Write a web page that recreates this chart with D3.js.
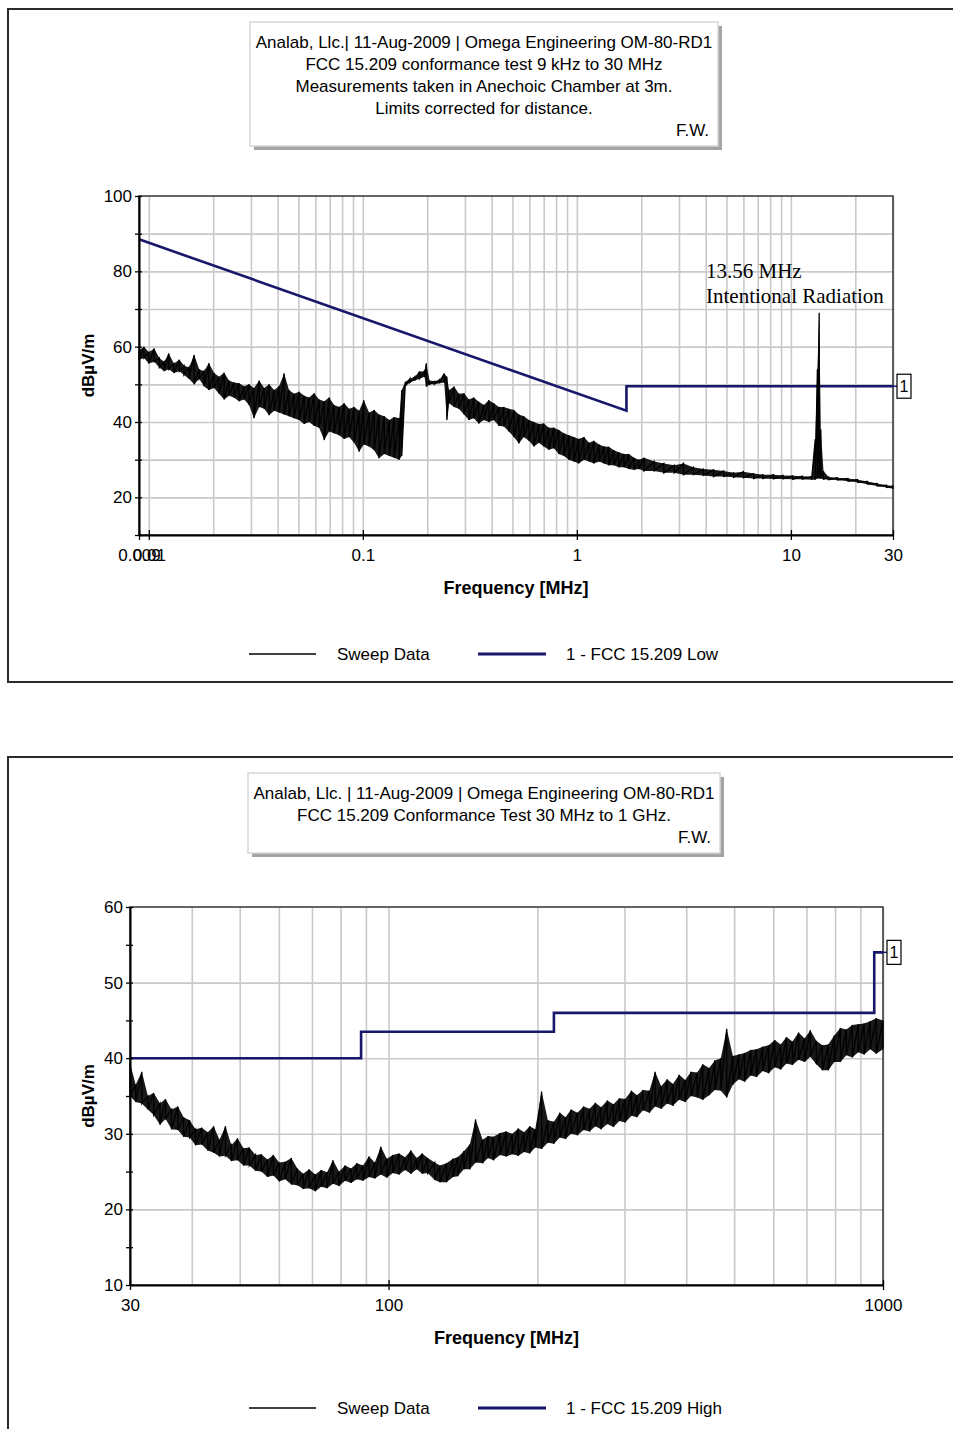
<!DOCTYPE html>
<html>
<head>
<meta charset="utf-8">
<script src="https://cdn.jsdelivr.net/npm/d3@7"></script>
<style>
body { margin: 0; background: #fff; }
text { fill: #000; }
</style>
</head>
<body>
<svg id="chart" width="953" height="1429"></svg>
<script>
// ---- chart 1: 9 kHz - 30 MHz (min / max of the sweep read per display column) ----
var lowFreq = [0.009,0.0095,0.01,0.0106,0.0112,0.0118,0.0124,0.0131,0.0139,0.0146,
  0.0154,0.0163,0.0172,0.0181,0.0191,0.0202,0.0213,0.0225,0.0237,0.025,
  0.0264,0.0279,0.0294,0.031,0.0328,0.0346,0.0365,0.0385,0.0406,0.0429,
  0.0452,0.0477,0.0504,0.0532,0.0561,0.0592,0.0625,0.066,0.0696,0.0734,
  0.0775,0.0818,0.0863,0.0911,0.0961,0.101,0.107,0.113,0.119,0.126,
  0.133,0.14,0.148,0.152,0.158,0.166,0.175,0.184,0.194,0.198,
  0.205,0.216,0.228,0.24,0.247,0.253,0.267,0.281,0.297,0.313,
  0.33,0.348,0.368,0.388,0.409,0.432,0.456,0.481,0.508,0.536,
  0.565,0.597,0.63,0.665,0.701,0.74,0.781,0.824,0.87,0.918,
  0.969,1.02,1.08,1.14,1.2,1.27,1.34,1.41,1.49,1.57,
  1.66,1.75,1.85,1.95,2.06,2.3,2.55,2.85,3.15,3.5,
  3.9,4.35,4.85,5.4,6.0,6.7,7.4,8.3,9.2,10.2,
  11.3,12.5,13.0,13.3,13.56,13.8,14.2,15.0,16.5,18.5,
  20.5,22.8,25.3,28,30];
var lowMin = [56.5,57,55.5,56,54.5,53.5,54,53,53.5,52.5,
  51.5,50,51.5,49.5,48.5,49,47.5,46,47,46.5,
  45.5,46,44.5,41,44,43.5,41.8,43,42.5,42,
  41.5,41,40.5,39.5,40,39,38.5,35.2,37.5,37,
  36.5,35.5,36,34.5,32.1,34,33.5,32.5,30.4,31.5,
  31,30.5,30,31,49.5,50.5,51,51.5,52,49.4,
  50,50,50.3,50.5,40.5,45,44,43.5,42,40.5,
  41,39.6,40.5,40,40.5,39,38.8,37.5,36,34.3,
  36,35,33.5,34.5,33.5,32.6,33,31.5,31,30,
  29.5,29,30,29.5,29,29.5,29,28.5,28.5,28,
  28,27.5,27.3,27.5,27,27,26.5,26.5,26,26,
  25.8,25.5,25.5,25.3,25.2,25,25,24.9,24.9,24.8,
  24.8,24.7,24.7,25,25,25,24.8,24.7,24.6,24.3,
  24,23.5,23,22.6,22.3];
var lowMax = [59,60,58.5,59.5,57,56,58.2,55.5,56.5,55,
  54.5,57.8,54,53.5,55.6,53,52,53.1,51,50.5,
  50.3,49.5,50,49,51,49,50,48.5,49.5,52.9,
  48.5,47.5,48,47,46.5,47.6,46,45.5,46.5,44.5,
  44,45,43.5,44,43,45.8,42.5,43.2,42,41.5,
  40.5,41.3,41,48.5,50.7,51.5,52,53.4,53.5,55.6,
  51,50.8,51.2,52.9,52,48.5,49.4,47.5,47.6,46,
  46.5,45.4,44.5,45.8,45,44,44,43.5,43.2,42,
  41.5,40.5,40,39.5,39.6,38.5,38.5,37.9,37,36.5,
  36,35.5,36,34.5,35,34,33.5,33.4,32.5,32,
  31.5,31.5,30.5,30,30.5,29.5,29,28.5,29,28,
  27.5,27.3,27,26.5,26.8,26.3,26,26,25.8,25.7,
  25.6,25.5,35.5,54,69,38,27,25.4,25.2,25,
  24.7,24.2,23.7,23.2,23];
var lowLimitFreq = [0.009, 0.49, 1.705, 1.705, 30];
var lowLimitDb = [88.5, 53.8, 43.0, 49.5, 49.5];
var lowTickValues = [0.009, 0.01, 0.1, 1, 10, 30];
var lowTickLabels = ["0.009", "0.01", "0.1", "1", "10", "30"];
var lowTitle = ["Analab, Llc.| 11-Aug-2009 | Omega Engineering OM-80-RD1",
  "FCC 15.209 conformance test 9 kHz to 30 MHz",
  "Measurements taken  in Anechoic Chamber at 3m.",
  "Limits corrected for distance."];

// ---- chart 2: 30 MHz - 1 GHz ----
var highFreq = [30,30.8,31.7,32.6,33.5,34.5,35.4,36.4,37.5,38.5,
  39.6,40.7,41.9,43.1,44.3,45.5,46.8,48.1,49.5,50.9,
  52.3,53.8,55.3,56.9,58.5,60.1,61.8,63.6,65.4,67.2,
  69.1,71.1,73.1,75.1,77.2,79.4,81.7,84,86.3,88.8,
  91.3,93.8,96.5,99.2,102,105,108,111,114,117,
  120,124,127,131,135,138,142,146,150,155,
  159,163,168,173,178,183,188,193,198,204,
  210,216,222,228,234,241,248,255,262,269,
  277,285,293,301,310,318,327,337,346,356,
  366,376,387,398,409,421,432,445,457,470,
  483,497,511,525,540,555,571,587,604,621,
  638,656,675,694,713,733,754,775,797,820,
  843,867,891,916,942,969,1000];
var highMin = [35,34.2,34,33.2,32.5,31.2,32,30.6,30.5,29.6,
  29.5,28.5,28.6,27.8,27.5,27,27.1,26.4,26.5,25.8,
  25.8,25.1,25,24.3,24.5,23.7,24,23.3,23.2,22.7,
  22.8,22.4,23,22.8,23.4,23.1,23.8,23.5,24,23.8,
  24.3,24.1,24.6,24.2,24.8,24.6,25.2,24.7,25.3,24.7,
  24.8,23.9,23.6,23.6,24.3,24.4,25.3,25.3,26.2,26.1,
  26.8,26.5,27.2,27,27.3,27.1,27.6,27.4,28.2,28,
  28.8,28.7,29.5,29.3,30,29.8,30.5,30.3,31,30.6,
  31.3,30.9,31.7,31.5,32.4,32.2,33.1,32.8,33.6,33.3,
  34,33.7,34.5,34.2,35,34.8,34.5,35.1,35.8,35.7,
  34.8,36.5,37.2,36.9,37.7,37.5,38.3,38,38.8,38.5,
  39.3,39.1,39.8,39.5,40.2,39.2,38.4,38.4,39.5,39.5,
  40.4,40.1,40.8,40.5,41.2,40.6,41.2];
var highMax = [39.4,36.5,38.2,35,35.4,34,34.6,33.2,33.6,32.2,
  31.8,30.6,30.8,30.2,31,29.2,31,28.5,29.4,28.1,
  28.2,27.2,27.3,26.6,27.2,26.2,26.3,26.8,25.4,24.7,
  25.3,24.6,25.2,24.9,26.5,25,25.8,25.4,26.1,25.8,
  27,26.2,28.3,26.7,27.2,27.4,26.9,27.8,26.8,27.4,
  26.8,26.2,25.8,26.1,26.7,26.9,27.7,28.6,31.9,29.2,
  29.7,29.6,30.1,30.3,30,30.7,30.2,31,30.6,35.6,
  31.8,31.6,32.8,32.2,33.2,32.8,33.6,33.3,34.1,33.5,
  34.4,33.9,34.7,34.6,35.7,35.1,35.8,35.7,38.2,36.3,
  37.2,36.6,37.8,37.1,38.2,38.1,39.2,38.7,39.7,40,
  43.9,40.3,40.5,40.7,41.1,41.2,41.5,41.7,42.4,41.8,
  42.8,42.2,43.4,42.6,43.7,42.3,41.7,41.8,43,44,
  43.8,44.4,44.5,44.6,44.9,45.3,45];
var highLimitFreq = [30, 88, 88, 216, 216, 960, 960, 1000];
var highLimitDb = [40, 40, 43.5, 43.5, 46, 46, 54, 54];
var highTickValues = [30, 100, 1000];
var highTickLabels = ["30", "100", "1000"];
var highTitle = ["Analab, Llc. | 11-Aug-2009 | Omega Engineering OM-80-RD1",
  "FCC 15.209 Conformance Test 30 MHz to 1 GHz."];

var NAVY = "#17176c";
var SANS = "Liberation Sans, Arial, sans-serif";
var SERIF = "Liberation Serif, Times New Roman, serif";
var svg = d3.select("#chart").style("font-family", SANS);

function drawChart(c) {
    var g = svg.append("g");

    // outer frame (right / bottom edges run off the page like the original)
    g.append("rect").attr("x", 8).attr("y", c.frameTop).attr("width", 980).attr("height", c.frameH)
        .attr("fill", "none").attr("stroke", "#2a2a2a").attr("stroke-width", 2);

    // title box with grey drop shadow
    var b = c.box;
    g.append("rect").attr("x", b.x + 4).attr("y", b.y + 4).attr("width", b.w).attr("height", b.h).attr("fill", "#a4a4a4");
    g.append("rect").attr("x", b.x).attr("y", b.y).attr("width", b.w).attr("height", b.h)
        .attr("fill", "#fff").attr("stroke", "#d6d6d6").attr("stroke-width", 1.5);
    c.title.forEach(function (t, i) {
        g.append("text").attr("x", b.x + b.w / 2).attr("y", b.y + 20 + i * 22).attr("dy", "0.35em")
            .attr("text-anchor", "middle").attr("font-size", 17).text(t);
    });
    g.append("text").attr("x", b.x + b.w - 9).attr("y", b.y + 20 + c.title.length * 22).attr("dy", "0.35em")
        .attr("text-anchor", "end").attr("font-size", 17).text("F.W.");

    var x = d3.scaleLog().domain(c.xDomain).range([c.left, c.right]);
    var y = d3.scaleLinear().domain(c.yDomain).range([c.bottom, c.top]);
    var w = c.right - c.left, h = c.bottom - c.top;

    // grid
    var gx = g.append("g").attr("transform", "translate(0," + c.bottom + ")")
        .call(d3.axisBottom(x).tickValues(x.ticks()).tickSize(-h).tickFormat(""));
    gx.select(".domain").remove();
    gx.selectAll("line").attr("stroke", "#c9c9c9").attr("stroke-width", 1.6);
    var gy = g.append("g").attr("transform", "translate(" + c.left + ",0)")
        .call(d3.axisLeft(y).tickValues(c.yGrid).tickSize(-w).tickFormat(""));
    gy.select(".domain").remove();
    gy.selectAll("line").attr("stroke", "#c9c9c9").attr("stroke-width", 1.6);

    // plot border
    g.append("rect").attr("x", c.left).attr("y", c.top).attr("width", w).attr("height", h)
        .attr("fill", "none").attr("stroke", "#333").attr("stroke-width", 1.5);

    // limit line
    var limitPts = c.limitFreq.map(function (f, i) { return [f, c.limitDb[i]]; });
    var line = d3.line().x(function (d) { return x(d[0]); }).y(function (d) { return y(d[1]); });
    g.append("path").attr("d", line(limitPts)).attr("fill", "none")
        .attr("stroke", NAVY).attr("stroke-width", 2.6);

    // limit tag "1"
    var endY = y(c.limitDb[c.limitDb.length - 1]);
    g.append("line").attr("x1", c.right).attr("x2", c.right + 5).attr("y1", endY).attr("y2", endY)
        .attr("stroke", NAVY).attr("stroke-width", 1.5);
    g.append("rect").attr("x", c.right + 4).attr("y", endY - 12).attr("width", 14).attr("height", 24)
        .attr("fill", "#fff").attr("stroke", "#000").attr("stroke-width", 1.2);
    g.append("text").attr("x", c.right + 11).attr("y", endY).attr("dy", "0.35em")
        .attr("text-anchor", "middle").attr("font-size", 16).text("1");

    // sweep data: dense band between min and max, plus min/max trace per column
    var sweepRows = c.sweepFreq.map(function (f, i) { return [f, c.sweepMin[i], c.sweepMax[i]]; });
    var band = d3.area().x(function (d) { return x(d[0]); })
        .y0(function (d) { return y(d[1]); }).y1(function (d) { return y(d[2]); });
    g.append("path").attr("d", band(sweepRows)).attr("fill", "#000").attr("fill-opacity", 0.9);
    var sweepPts = [];
    sweepRows.forEach(function (r) {
        sweepPts.push([r[0], r[2]]);
        sweepPts.push([r[0], r[1]]);
    });
    g.append("path").attr("d", line(sweepPts)).attr("fill", "none")
        .attr("stroke", "#000").attr("stroke-width", 1.3).attr("stroke-linejoin", "miter");

    // axes
    var ya = g.append("g").attr("transform", "translate(" + c.left + ",0)")
        .call(d3.axisLeft(y).tickValues(c.yTicks).tickSize(4).tickSizeOuter(0).tickPadding(3)
            .tickFormat(function (d) { return c.yLabels.indexOf(d) >= 0 ? d : ""; }));
    ya.select(".domain").attr("stroke", "#000").attr("stroke-width", 2);
    ya.selectAll(".tick line").attr("x1", 3).attr("stroke", "#000").attr("stroke-width", 1.3);
    ya.selectAll("text").attr("font-family", SANS).attr("font-size", 17).attr("fill", "#000");

    var xa = g.append("g").attr("transform", "translate(0," + c.bottom + ")")
        .call(d3.axisBottom(x).tickValues(c.xTicks).tickSize(5).tickSizeOuter(0).tickPadding(9)
            .tickFormat(function (d, i) { return c.xLabels[i]; }));
    xa.select(".domain").attr("stroke", "#000").attr("stroke-width", 2);
    xa.selectAll(".tick line").attr("y1", -5).attr("stroke", "#000").attr("stroke-width", 1.3);
    xa.selectAll("text").attr("font-family", SANS).attr("font-size", 17).attr("fill", "#000");

    // axis titles
    g.append("text").attr("transform", "translate(88," + (c.top + h / 2) + ") rotate(-90)")
        .attr("text-anchor", "middle").attr("dy", "0.35em").attr("font-size", 17).attr("font-weight", "bold")
        .text("dBµV/m");
    g.append("text").attr("x", c.left + w / 2).attr("y", c.bottom + 53).attr("dy", "0.35em")
        .attr("text-anchor", "middle").attr("font-size", 18).attr("font-weight", "bold")
        .text("Frequency [MHz]");

    // legend
    var ly = c.legendY;
    g.append("line").attr("x1", 249).attr("x2", 316).attr("y1", ly).attr("y2", ly).attr("stroke", "#000").attr("stroke-width", 1.5);
    g.append("text").attr("x", 337).attr("y", ly).attr("dy", "0.35em").attr("font-size", 17).text("Sweep Data");
    g.append("line").attr("x1", 478).attr("x2", 546).attr("y1", ly).attr("y2", ly).attr("stroke", NAVY).attr("stroke-width", 3);
    g.append("text").attr("x", 566).attr("y", ly).attr("dy", "0.35em").attr("font-size", 17).text(c.limitName);

    return {g: g, x: x, y: y};
}

var lowChart = drawChart({
    frameTop: 9, frameH: 673,
    box: {x: 250, y: 22, w: 468, h: 124},
    title: lowTitle,
    left: 139, right: 893, top: 196, bottom: 535,
    xDomain: [0.009, 30], yDomain: [10, 100],
    yGrid: [20, 30, 40, 50, 60, 70, 80, 90],
    yTicks: [10, 20, 30, 40, 50, 60, 70, 80, 90, 100],
    yLabels: [20, 40, 60, 80, 100],
    xTicks: lowTickValues, xLabels: lowTickLabels,
    limitFreq: lowLimitFreq, limitDb: lowLimitDb,
    sweepFreq: lowFreq, sweepMin: lowMin, sweepMax: lowMax,
    legendY: 654, limitName: "1 - FCC 15.209 Low"
});

// annotation of the carrier
lowChart.g.append("text").attr("x", 706).attr("y", 278).attr("font-family", SERIF)
    .attr("font-size", 21).text("13.56 MHz");
lowChart.g.append("text").attr("x", 706).attr("y", 303).attr("font-family", SERIF)
    .attr("font-size", 21).text("Intentional Radiation");

drawChart({
    frameTop: 757, frameH: 720,
    box: {x: 248, y: 773, w: 472, h: 80},
    title: highTitle,
    left: 130, right: 883, top: 907, bottom: 1285,
    xDomain: [30, 1000], yDomain: [10, 60],
    yGrid: [20, 30, 40, 50],
    yTicks: [10, 15, 20, 25, 30, 35, 40, 45, 50, 55, 60],
    yLabels: [10, 20, 30, 40, 50, 60],
    xTicks: highTickValues, xLabels: highTickLabels,
    limitFreq: highLimitFreq, limitDb: highLimitDb,
    sweepFreq: highFreq, sweepMin: highMin, sweepMax: highMax,
    legendY: 1408, limitName: "1 - FCC 15.209 High"
});
</script>
</body>
</html>
